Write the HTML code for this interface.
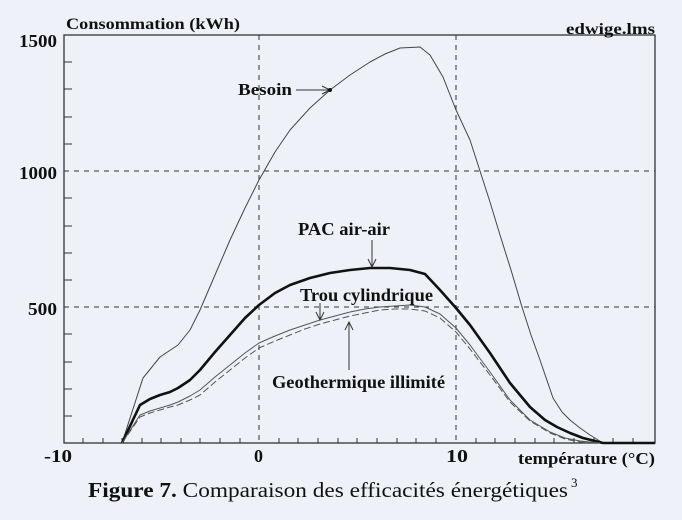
<!DOCTYPE html><html><head><style>body{margin:0;background:#eef2f8;}svg{display:block}</style></head><body>
<svg width="682" height="520" xmlns="http://www.w3.org/2000/svg" font-family="Liberation Serif, serif" font-weight="bold">
<rect width="682" height="520" fill="#eef2f8"/>
<rect x="64" y="35" width="591" height="408" fill="none" stroke="#333" stroke-width="1.3"/>
<g stroke="#333" stroke-width="1" stroke-dasharray="5,5" fill="none">
<line x1="64" y1="171" x2="655" y2="171"/><line x1="64" y1="307" x2="655" y2="307"/>
<line x1="259" y1="35" x2="259" y2="443"/><line x1="456" y1="35" x2="456" y2="443"/>
</g>
<g stroke="#333" stroke-width="1">
<line x1="64" y1="62" x2="72" y2="62"/><line x1="64" y1="89" x2="72" y2="89"/><line x1="64" y1="117" x2="72" y2="117"/><line x1="64" y1="144" x2="72" y2="144"/>
<line x1="64" y1="198" x2="72" y2="198"/><line x1="64" y1="226" x2="72" y2="226"/><line x1="64" y1="253" x2="72" y2="253"/><line x1="64" y1="280" x2="72" y2="280"/>
<line x1="64" y1="334" x2="72" y2="334"/><line x1="64" y1="362" x2="72" y2="362"/><line x1="64" y1="389" x2="72" y2="389"/><line x1="64" y1="416" x2="72" y2="416"/>
<line x1="83" y1="443" x2="83" y2="438"/><line x1="103" y1="443" x2="103" y2="438"/><line x1="122" y1="443" x2="122" y2="438"/><line x1="142" y1="443" x2="142" y2="438"/><line x1="161" y1="443" x2="161" y2="438"/><line x1="181" y1="443" x2="181" y2="438"/><line x1="200" y1="443" x2="200" y2="438"/><line x1="220" y1="443" x2="220" y2="438"/><line x1="240" y1="443" x2="240" y2="438"/>
<line x1="279" y1="443" x2="279" y2="438"/><line x1="298" y1="443" x2="298" y2="438"/><line x1="318" y1="443" x2="318" y2="438"/><line x1="338" y1="443" x2="338" y2="438"/><line x1="357" y1="443" x2="357" y2="438"/><line x1="377" y1="443" x2="377" y2="438"/><line x1="397" y1="443" x2="397" y2="438"/><line x1="416" y1="443" x2="416" y2="438"/><line x1="436" y1="443" x2="436" y2="438"/>
<line x1="476" y1="443" x2="476" y2="438"/><line x1="495" y1="443" x2="495" y2="438"/><line x1="515" y1="443" x2="515" y2="438"/><line x1="535" y1="443" x2="535" y2="438"/><line x1="554" y1="443" x2="554" y2="438"/><line x1="574" y1="443" x2="574" y2="438"/><line x1="594" y1="443" x2="594" y2="438"/><line x1="613" y1="443" x2="613" y2="438"/><line x1="633" y1="443" x2="633" y2="438"/>
</g>
<g fill="none" stroke-linejoin="round">
<polyline stroke="#444" stroke-width="1" points="122,443 143,378 160,357 178,345 190,330 200,310 215,275 230,240 245,208 259,180 275,152 290,130 310,108 330,90 350,75 370,62 385,54 400,48 420,47 430,55 443,77 456,110 470,140 480,171 490,202 500,235 511,270 522,307 531,335 540,360 553,398 562,412 570,420 580,428 590,435 603,443 655,443"/>
<polyline stroke="#111" stroke-width="2.6" points="122,443 140,405 150,399 160,395 170,392 178,388 190,380 200,370 215,352 230,335 245,318 259,305 275,293 290,285 310,278 330,273 350,270 370,268 390,268 410,270 425,274 440,290 456,308 470,325 490,353 510,383 530,407 545,420 557,427 570,433 583,438 603,443 655,443"/>
<polyline stroke="#555" stroke-width="1" points="122,443 140,415 150,411 160,408 170,405 178,402 190,396 200,390 215,377 230,365 245,353 259,343 275,336 290,330 305,325 320,320 335,316 350,312 365,309 380,307 395,306 410,305 425,307 440,314 456,328 470,345 490,372 510,400 530,420 550,432 565,438 580,441 600,443"/>
<polyline stroke="#555" stroke-width="1" stroke-dasharray="7,3" points="122,443 140,417 150,413 160,410 170,407 178,405 190,400 200,395 215,382 230,370 245,358 259,348 275,341 290,335 305,329 320,324 335,320 350,316 365,313 380,310 395,309 410,309 425,311 440,318 456,332 470,349 490,375 510,402 530,421 550,433 565,439 580,442 600,443"/>
</g>
<g stroke="#333" stroke-width="1" fill="none">
<line x1="296" y1="90" x2="330" y2="90"/><polyline points="322,86 330,90 322,94"/>
<line x1="372" y1="240" x2="372" y2="267"/><polyline points="368,259 372,267 376,259"/>
<line x1="320" y1="303" x2="320" y2="320"/><polyline points="316,312 320,320 324,312"/>
<line x1="349" y1="370" x2="349" y2="322"/><polyline points="345,330 349,322 353,330"/>
</g>
<circle cx="330" cy="90" r="2" fill="#111"/>
<g fill="#111" font-size="16">
<text x="66" y="29" textLength="174" lengthAdjust="spacingAndGlyphs">Consommation (kWh)</text>
<text x="566" y="34" textLength="89" lengthAdjust="spacingAndGlyphs">edwige.lms</text>
<text x="19" y="47" font-size="18" textLength="38" lengthAdjust="spacingAndGlyphs">1500</text>
<text x="19" y="179" font-size="18" textLength="38" lengthAdjust="spacingAndGlyphs">1000</text>
<text x="28" y="315" font-size="18" textLength="29" lengthAdjust="spacingAndGlyphs">500</text>
<text x="44" y="462" font-size="18" textLength="28" lengthAdjust="spacingAndGlyphs">-10</text>
<text x="254" y="462" font-size="18">0</text>
<text x="446" y="462" font-size="18" textLength="22" lengthAdjust="spacingAndGlyphs">10</text>
<text x="518" y="464" font-size="17" textLength="137" lengthAdjust="spacingAndGlyphs">température (°C)</text>
<text x="238" y="95" font-size="17" textLength="54" lengthAdjust="spacingAndGlyphs">Besoin</text>
<text x="298" y="235" font-size="18" textLength="92" lengthAdjust="spacingAndGlyphs">PAC air-air</text>
<text x="300" y="301" font-size="18" textLength="133" lengthAdjust="spacingAndGlyphs">Trou cylindrique</text>
<text x="272" y="388" font-size="18" textLength="173" lengthAdjust="spacingAndGlyphs">Geothermique illimité</text>
<text x="88" y="497" font-size="21" textLength="480" lengthAdjust="spacingAndGlyphs">Figure 7.<tspan font-weight="normal"> Comparaison des efficacités énergétiques</tspan></text>
<text x="571" y="487" font-size="13" font-weight="normal">3</text>
</g>
</svg></body></html>
